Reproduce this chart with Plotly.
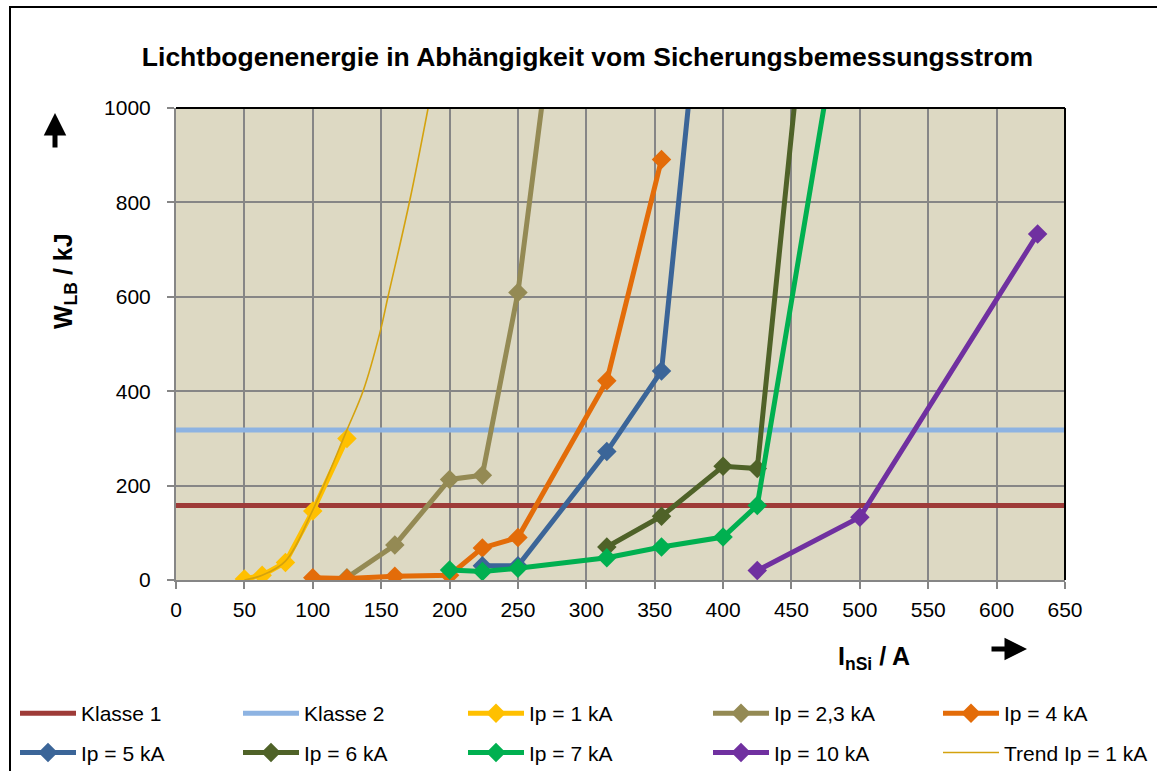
import plotly.graph_objects as go

# ---------------- data ----------------
klasse_x = [0, 650]
klasse1_y = [158, 158]
klasse2_y = [318, 318]

ip1_x = [50, 63, 80, 100, 125]
ip1_y = [2, 10, 37, 146, 300]

ip23_x = [125, 160, 200, 224, 250, 315]
ip23_y = [5, 74, 213, 222, 609, 2080]

ip4_x = [100, 125, 160, 200, 224, 250, 315, 355]
ip4_y = [5, 3, 8, 10, 68, 90, 422, 891]

ip5_x = [224, 250, 315, 355, 400]
ip5_y = [30, 30, 272, 443, 1730]

ip6_x = [315, 355, 400, 425, 500]
ip6_y = [70, 135, 241, 236, 2360]

ip7_x = [200, 224, 250, 315, 355, 400, 425, 500]
ip7_y = [21, 18, 25, 47, 70, 91, 158, 1455]

ip10_x = [425, 500, 630]
ip10_y = [20, 133, 733]

trend_x = [50, 63, 80, 100, 125, 137, 149, 155, 171, 185]
trend_y = [0, 10, 40, 148, 318, 402, 523, 600, 805, 1010]

x_ticks = list(range(0, 651, 50))
y_ticks = list(range(0, 1001, 200))

FONT = "Liberation Sans, Arial, sans-serif"

# ---------------- geometry ----------------
W, H = 1157, 771
L, R, T, B = 176, 92, 108, 191
PW, PH = W - L - R, H - T - B

def px(x):
    return (x - L) / PW

def py(y):
    return (H - B - y) / PH

fig = go.Figure()

series = [
    ("Klasse 1", klasse_x, klasse1_y, "#9E3B38", False, "legend", "a"),
    ("Klasse 2", klasse_x, klasse2_y, "#8DB3E2", False, "legend2", "a"),
    ("Ip = 1 kA", ip1_x, ip1_y, "#FFC000", True, "legend3", "a"),
    ("Ip = 2,3 kA", ip23_x, ip23_y, "#948A54", True, "legend4", "a"),
    ("Ip = 4 kA", ip4_x, ip4_y, "#E36C09", True, "legend5", "a"),
    ("Ip = 5 kA", ip5_x, ip5_y, "#3B6598", True, "legend", "b"),
    ("Ip = 6 kA", ip6_x, ip6_y, "#4F6228", True, "legend2", "b"),
    ("Ip = 7 kA", ip7_x, ip7_y, "#00B050", True, "legend3", "b"),
    ("Ip = 10 kA", ip10_x, ip10_y, "#7030A0", True, "legend4", "b"),
]

for name, xs, ys, col, mk, lg, grp in series:
    fig.add_trace(go.Scatter(
        x=xs, y=ys, name=name,
        mode="lines+markers" if mk else "lines",
        line=dict(color=col, width=5),
        marker=dict(symbol="diamond", size=15, color=col),
        legend=lg, legendgroup=grp + name,
        cliponaxis=True,
    ))

fig.add_trace(go.Scatter(
    x=trend_x, y=trend_y, name="Trend Ip = 1 kA", mode="lines",
    line=dict(color="#D4A20E", width=1.6, shape="spline", smoothing=1.0),
    legend="legend5", legendgroup="btrend",
))

# ---------------- layout ----------------
axis_common = dict(
    showgrid=True, gridcolor="#868686", gridwidth=2,
    showline=True, linecolor="#868686", linewidth=2,
    ticks="outside", ticklen=7, tickcolor="#868686", tickwidth=2,
    zeroline=False, tickfont=dict(family=FONT, size=21, color="black"),
)

leg_common = dict(
    orientation="v", yanchor="top", y=py(693), xanchor="left",
    font=dict(family=FONT, size=21, color="black"),
    bgcolor="rgba(0,0,0,0)", tracegroupgap=9, itemwidth=56,
    traceorder="grouped",
)
leg_x = [15, 238, 463, 708, 938]

fig.update_layout(
    width=W, height=H,
    margin=dict(l=L, r=R, t=T, b=B, autoexpand=False),
    paper_bgcolor="white",
    plot_bgcolor="#DDD9C3",
    font=dict(family=FONT, color="black"),
    title=dict(
        text="<b>Lichtbogenenergie in Abhängigkeit vom Sicherungsbemessungsstrom</b>",
        font=dict(family=FONT, size=26.5, color="black"),
        xref="container", x=587.5 / W, xanchor="center",
        yref="container", y=1 - 57 / H, yanchor="middle",
    ),
    xaxis=dict(range=[0, 650], tickvals=x_ticks, ticklabelstandoff=3, **axis_common),
    yaxis=dict(range=[0, 1000], tickvals=y_ticks, ticklabelstandoff=12, **axis_common),
    legend=dict(x=px(leg_x[0]), **leg_common),
    legend2=dict(x=px(leg_x[1]), **leg_common),
    legend3=dict(x=px(leg_x[2]), **leg_common),
    legend4=dict(x=px(leg_x[3]), **leg_common),
    legend5=dict(x=px(leg_x[4]), **leg_common),
    showlegend=True,
)

# plot-area border (top, right) and outer chart border
fig.add_shape(type="line", xref="paper", yref="paper", x0=0, x1=1, y0=1, y1=1,
              line=dict(color="black", width=2))
fig.add_shape(type="line", xref="paper", yref="paper", x0=1, x1=1, y0=0, y1=1,
              line=dict(color="black", width=2))
fig.add_shape(type="rect", xref="paper", yref="paper",
              x0=px(10), x1=px(1210), y0=py(820), y1=py(7),
              line=dict(color="black", width=2), fillcolor="rgba(0,0,0,0)")

# axis titles
fig.add_annotation(text="<b>W<sub>LB</sub> / kJ</b>", textangle=-90,
                   xref="paper", yref="paper", x=px(65), y=py(281),
                   xanchor="center", yanchor="middle",
                   showarrow=False, font=dict(family=FONT, size=25, color="black"))
fig.add_annotation(text="<b>I<sub>nSi</sub> / A</b>",
                   xref="paper", yref="paper", x=px(874), y=py(658),
                   xanchor="center", yanchor="middle",
                   showarrow=False, font=dict(family=FONT, size=25, color="black"))

# arrows
fig.add_annotation(text="", xref="paper", yref="paper", x=px(55), y=py(113),
                   ax=0, ay=36, showarrow=True, arrowhead=2, arrowwidth=5,
                   arrowsize=0.9, arrowcolor="black", standoff=0)
fig.add_annotation(text="", xref="paper", yref="paper", x=px(1027), y=py(649),
                   ax=-37, ay=0, showarrow=True, arrowhead=2, arrowwidth=5,
                   arrowsize=0.9, arrowcolor="black", standoff=0)

fig.write_html("out.html", config={"displayModeBar": False},
               post_script="document.body.style.margin='0px';")
